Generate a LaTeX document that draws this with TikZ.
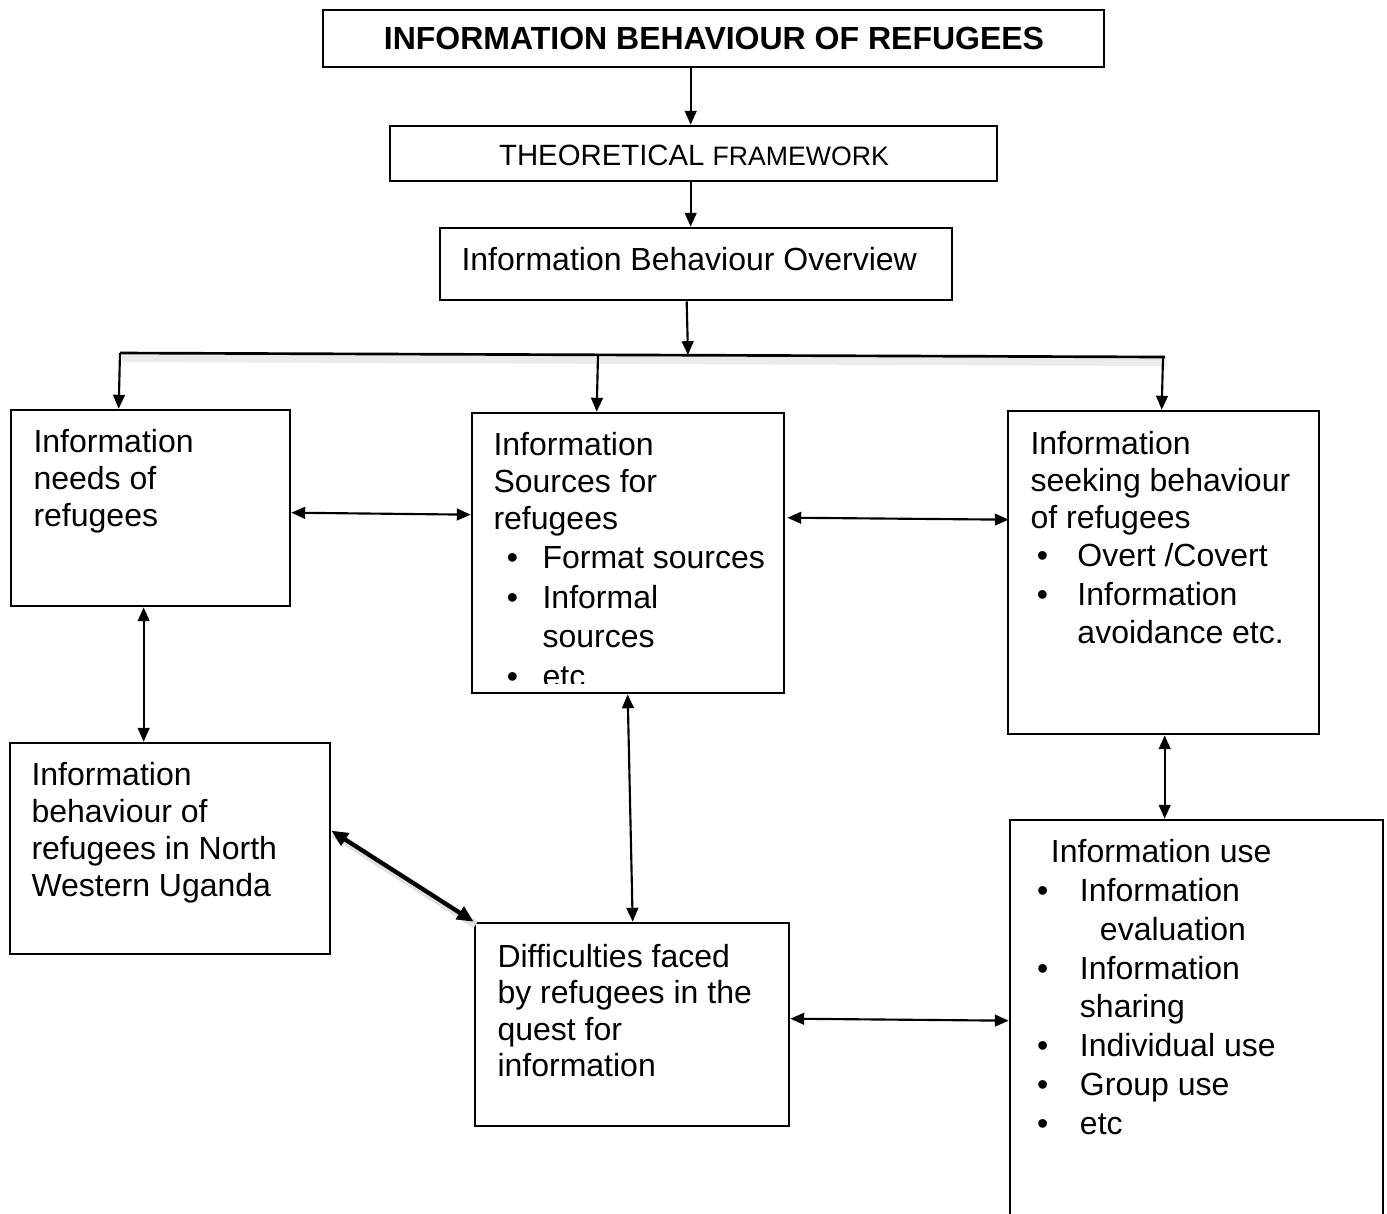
\documentclass[tikz,border=0pt]{standalone}
\usepackage{fontspec}
\setmainfont{Liberation Sans}
\usetikzlibrary{arrows.meta,fit,calc}

% bullet line: #1 = indent of the item text, #2 = indent of the bullet, #3 = item
\newcommand\bul[3]{\makebox[#1][l]{\hspace*{#2}\textbullet}#3}

\begin{document}
\begin{tikzpicture}[x=0.375pt,y=-0.375pt,
  box/.style={draw,line width=1pt,inner sep=0pt},
  txt/.style={anchor=north west,inner sep=0pt,align=left},
  conn/.style={line width=0.8pt},
  tip/.style={conn,-{Triangle[length=5.2pt,width=4.4pt]}},
  dbl/.style={conn,{Triangle[length=5.2pt,width=4.4pt]}-{Triangle[length=5.2pt,width=4.4pt]}},
]
\useasboundingbox (0,0) rectangle (1387,1213);

% ---- boxes ----
\node[box,fit={(323,10) (1104,67)}] (title) {};
\node[box,fit={(390,126) (997,181)}] (theo) {};
\node[box,fit={(440,228) (952,300)}] (overview) {};
\node[box,fit={(11,410) (290,606)}] (needs) {};
\node[box,fit={(472,413) (784,693)}] (sources) {};
\node[box,fit={(1008,411) (1319,734)}] (seeking) {};
\node[box,fit={(10,743) (330,954)}] (uganda) {};
\node[box,fit={(475,923) (789,1126)}] (diff) {};
\node[box,fit={(1010,820) (1383,1240)}] (use) {};

% ---- texts (each block placed by the top of its first line) ----
\node[font=\bfseries\fontsize{12}{14}\selectfont] (titletext) at (714,38.5)
  {INFORMATION BEHAVIOUR OF REFUGEES};
\node[anchor=base,inner sep=0pt] (theotext) at (694,165)
  {\fontsize{11}{13}\selectfont THEORETICAL {\fontsize{10}{12}\selectfont FRAMEWORK}};
\node[txt,font=\fontsize{12}{14}\selectfont] (overviewtext) at (461,246.5)
  {Information Behaviour Overview};

\node[txt,font=\fontsize{12}{13.9}\selectfont] (needstext) at (33,428.5)
  {Information\\needs of\\refugees};

\begin{scope}
  \clip (472,413) rectangle (784,683);
  \node[txt,font=\fontsize{12}{13.9}\selectfont] (sourcestext) at (493,431.5)
    {Information\\Sources for\\refugees\\[0.9pt]
     \bul{18.4pt}{5pt}{Format sources}\\[0.9pt]
     \bul{18.4pt}{5pt}{Informal}\\[0.9pt]
     \hspace*{18.4pt}sources\\[0.9pt]
     \bul{18.4pt}{5pt}{etc}};
\end{scope}

\node[txt,font=\fontsize{12}{13.9}\selectfont] (seekingtext) at (1030,430.5)
  {Information\\seeking behaviour\\of refugees\\[0.5pt]
   \bul{17.6pt}{2.4pt}{Overt /Covert}\\[0.5pt]
   \bul{17.6pt}{2.4pt}{Information}\\[0.5pt]
   \hspace*{17.6pt}avoidance etc.};

\node[txt,font=\fontsize{12}{13.9}\selectfont] (ugandatext) at (31,761.5)
  {Information\\behaviour of\\refugees in North\\Western Uganda};

\node[txt,font=\fontsize{12}{13.7}\selectfont] (difftext) at (497,943.5)
  {Difficulties faced\\by refugees in the\\quest for\\information};

\node[txt,font=\fontsize{12}{14.6}\selectfont] (usetext) at (1036.5,838.5)
  {\hspace*{5.2pt}Information use\\
   \bul{16.1pt}{0pt}{Information}\\
   \hspace*{23.6pt}evaluation\\
   \bul{16.1pt}{0pt}{Information}\\
   \hspace*{16.1pt}sharing\\
   \bul{16.1pt}{0pt}{Individual use}\\
   \bul{16.1pt}{0pt}{Group use}\\
   \bul{16.1pt}{0pt}{etc}};

% ---- distribution bar ----
\coordinate (barL) at (120,353);
\coordinate (barC) at (598,355);
\coordinate (barM) at (688,355);
\coordinate (barR) at (1163,357);
\draw[line width=3pt,black!8] ($(barL)+(2,5)$) -- ($(barR)+(4,5)$);
\draw[conn,line width=1pt] (barL) -- ($(barR)+(2,0)$);

% ---- connectors ----
\draw[tip] ($(title.south west)+(369,0)$) -- ($(theo.north west)+(302,0)$);
\draw[tip] ($(theo.south west)+(302,0)$) -- ($(overview.north west)+(252,0)$);
\draw[tip] ($(overview.south west)+(248,0)$) -- (barM);
\draw[tip] (barL) -- ($(needs.north west)+(109,0)$);
\draw[tip] (barC) -- ($(sources.north west)+(126,0)$);
\draw[tip] (barR) -- ($(seeking.north west)+(155,0)$);

\draw[dbl] ($(needs.north east)+(0,104)$) -- ($(sources.north west)+(0,103)$);
\draw[dbl] ($(sources.north east)+(2,106)$) -- ($(seeking.north west)+(2,110)$);
\draw[dbl] ($(needs.south west)+(134,0)$) -- ($(uganda.north west)+(135,0)$);
\draw[dbl] ($(sources.south west)+(157,0)$) -- ($(diff.north west)+(159,0)$);
\draw[dbl] ($(seeking.south west)+(158,0)$) -- ($(use.north west)+(156,0)$);
\draw[dbl] ($(diff.north east)+(0,97)$) -- ($(use.north west)+(0,202)$);

% thick link between the Uganda box and the difficulties box
\draw[line width=3pt,black!12] ($(uganda.north east)+(2,92)$) -- ($(diff.north west)+(2,3)$);
\draw[line width=1.6pt,{Triangle[length=6.2pt,width=5.4pt]}-{Triangle[length=6.2pt,width=5.4pt]}]
  ($(uganda.north east)+(0,89)$) -- (diff.north west);
\end{tikzpicture}
\end{document}
